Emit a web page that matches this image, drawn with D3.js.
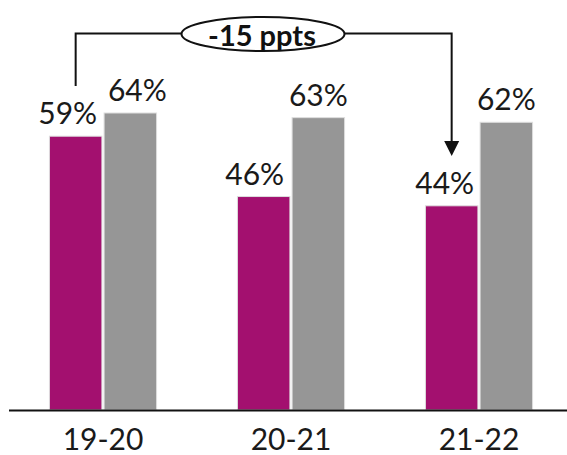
<!DOCTYPE html>
<html>
<head>
<meta charset="utf-8">
<script src="https://cdn.jsdelivr.net/npm/d3@7"></script>
<style>
  html, body { margin: 0; padding: 0; background: #fff; }
  svg { display: block; font-family: Lato, "Open Sans", sans-serif; }
</style>
</head>
<body>
<svg id="chart" width="567" height="455"></svg>
<script>
// Academic years shown along the axis
const categories = ["19-20", "20-21", "21-22"];
// Two series per year (percent)
const seriesNames = ["group", "comparison"];
const groupValues = [59, 46, 44];
const comparisonValues = [64, 63, 62];
// Change annotation between first and last year
const changeLabel = "-15 ppts";

const colors = { group: "#A3106F", comparison: "#969696" };
// small horizontal nudges for the value labels (px)
const labelNudge = { group: [-8, -9, -7], comparison: [7, 0, 0] };

const svg = d3.select("#chart");

const baseline = 410;
const y = d3.scaleLinear().domain([0, 64]).range([baseline, 113]);

const x0 = d3.scaleBand().domain(categories).range([9, 573])
  .paddingInner(0.43).paddingOuter(0.215);
const x1 = d3.scaleBand().domain(seriesNames).range([0, x0.bandwidth()])
  .paddingInner(0.04);

const rows = categories.map((c, i) => ({
  cat: c,
  i,
  vals: [
    { key: "group", v: groupValues[i] },
    { key: "comparison", v: comparisonValues[i] }
  ]
}));

const groups = svg.append("g").selectAll("g")
  .data(rows).join("g")
  .attr("transform", d => `translate(${x0(d.cat)},0)`);

groups.selectAll("rect")
  .data(d => d.vals)
  .join("rect")
  .attr("x", d => x1(d.key))
  .attr("y", d => y(d.v))
  .attr("width", x1.bandwidth())
  .attr("height", d => baseline - y(d.v))
  .attr("fill", d => colors[d.key])
  .attr("stroke", "#dedede")
  .attr("stroke-width", 1);

groups.selectAll("text.val")
  .data(d => d.vals.map(v => ({ ...v, i: d.i })))
  .join("text")
  .attr("class", "val")
  .attr("x", d => x1(d.key) + x1.bandwidth() / 2 + labelNudge[d.key][d.i])
  .attr("y", d => y(d.v) - 12)
  .attr("text-anchor", "middle")
  .attr("font-size", 30)
  .attr("fill", "#1a1a1a")
  .text(d => d.v + "%");

// Axis along the baseline
const axis = svg.append("g")
  .attr("transform", `translate(0,${baseline})`)
  .call(d3.axisBottom(x0).tickSize(0).tickPadding(19));
axis.select(".domain").remove();
axis.selectAll("text")
  .attr("font-size", 30)
  .attr("font-family", "Lato, 'Open Sans', sans-serif")
  .attr("fill", "#1a1a1a");
svg.append("line")
  .attr("x1", 9).attr("x2", 567)
  .attr("y1", baseline + 0.5).attr("y2", baseline + 0.5)
  .attr("stroke", "#111").attr("stroke-width", 2);

// Bracket annotation from first-year bar to last-year bar
const startX = x0(categories[0]) + x1("group") + x1.bandwidth() / 2;
const endX = x0(categories[2]) + x1("group") + x1.bandwidth() / 2;
const topY = 33.5;
const ellCx = 263, ellRx = 81.5, ellRy = 17;
const headTop = 141, headTip = 156, headHalf = 7.5;

svg.append("path")
  .attr("d", `M${startX},86 V${topY} H${ellCx - ellRx}`)
  .attr("fill", "none").attr("stroke", "#111").attr("stroke-width", 2);
svg.append("path")
  .attr("d", `M${ellCx + ellRx},${topY} H${endX} V${headTop}`)
  .attr("fill", "none").attr("stroke", "#111").attr("stroke-width", 2);
svg.append("path")
  .attr("d", `M${endX - headHalf},${headTop} L${endX + headHalf},${headTop} L${endX},${headTip} Z`)
  .attr("fill", "#111");

svg.append("ellipse")
  .attr("cx", ellCx).attr("cy", topY + 0.5)
  .attr("rx", ellRx).attr("ry", ellRy)
  .attr("fill", "#fff").attr("stroke", "#111").attr("stroke-width", 2);
svg.append("text")
  .attr("x", ellCx - 1).attr("y", 46)
  .attr("text-anchor", "middle")
  .attr("font-size", 29).attr("font-weight", 700)
  .attr("fill", "#111")
  .text(changeLabel);
</script>
</body>
</html>
